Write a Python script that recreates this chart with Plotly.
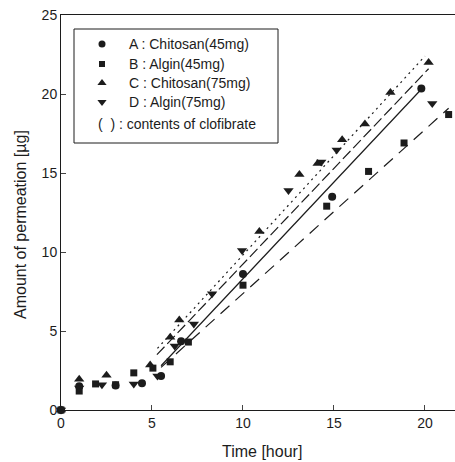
import plotly.graph_objects as go

# ---- data ----
A_t = [0, 1, 3.0, 4.45, 5.5, 6.6, 10.0, 14.9, 19.8]
A_y = [0, 1.5, 1.55, 1.7, 2.15, 4.35, 8.6, 13.5, 20.35]

B_t = [0, 1, 1.9, 3.0, 4.0, 5.05, 6.0, 7.0, 10.0, 14.6, 16.9, 18.85, 21.3]
B_y = [0, 1.2, 1.65, 1.6, 2.35, 2.65, 3.05, 4.3, 7.9, 12.9, 15.1, 16.9, 18.7]

C_t = [0, 1, 2.5, 4.9, 6.0, 6.5, 10.9, 13.1, 14.1, 15.45, 16.7, 18.1, 20.2]
C_y = [0, 1.95, 2.2, 2.85, 4.6, 5.7, 11.3, 14.9, 15.6, 17.1, 18.1, 20.1, 22.0]

D_t = [0, 1, 2.25, 4.0, 5.3, 6.25, 7.3, 8.3, 9.95, 12.5, 14.3, 15.15, 20.4]
D_y = [0, 1.4, 1.6, 1.65, 2.15, 4.05, 5.45, 7.35, 10.1, 13.9, 15.7, 16.45, 19.4]

# fitted trend lines (end points)
A_fit_t = [5.5, 19.8]
A_fit_y = [2.8, 20.3]
B_fit_t = [5.5, 21.3]
B_fit_y = [2.7, 19.1]
C_fit_t = [5.3, 20.0]
C_fit_y = [3.9, 22.4]
D_fit_t = [5.27, 20.2]
D_fit_y = [3.5, 21.6]

legend_labels = ["A : Chitosan(45mg)", "B : Algin(45mg)", "C : Chitosan(75mg)", "D : Algin(75mg)"]
legend_note = "(  ) : contents of clofibrate"
x_ticks = [0, 5, 10, 15, 20]
y_ticks = [0, 5, 10, 15, 20, 25]
x_title = "Time [hour]"
y_title = "Amount of permeation [µg]"

INK = "#1c1c1c"
FONT = "Liberation Sans, Arial, sans-serif"

fig = go.Figure()

# trend lines
fig.add_trace(go.Scatter(x=C_fit_t, y=C_fit_y, mode="lines",
                         line=dict(color=INK, width=1.2, dash="2px,4px"), showlegend=False))
fig.add_trace(go.Scatter(x=D_fit_t, y=D_fit_y, mode="lines",
                         line=dict(color=INK, width=1.2, dash="11px,4px"), showlegend=False))
fig.add_trace(go.Scatter(x=A_fit_t, y=A_fit_y, mode="lines",
                         line=dict(color=INK, width=1.2), showlegend=False))
fig.add_trace(go.Scatter(x=B_fit_t, y=B_fit_y, mode="lines",
                         line=dict(color=INK, width=1.2, dash="12px,8px"), showlegend=False))

series = [
    (A_t, A_y, "circle", 8),
    (B_t, B_y, "square", 7),
    (C_t, C_y, "triangle-up", 9),
    (D_t, D_y, "triangle-down", 9),
]
for t, y, sym, sz in series:
    fig.add_trace(go.Scatter(x=t, y=y, mode="markers", cliponaxis=False,
                             marker=dict(symbol=sym, size=sz, color=INK), showlegend=False))

# hand-drawn legend box (paper coords; plot area spans px 61..455 x 15..410)
def px2paper_x(px):
    return (px - 61) / 394.0

def px2paper_y(py):
    return (410 - py) / 395.0

fig.add_shape(type="rect", xref="paper", yref="paper",
              x0=px2paper_x(74), x1=px2paper_x(278), y0=px2paper_y(143), y1=px2paper_y(29),
              line=dict(color=INK, width=1), fillcolor="rgba(0,0,0,0)", layer="above")

rows_py = [44, 64, 83, 102]
for (t, y, sym, sz), lab, py in zip(series, legend_labels, rows_py):
    fig.add_trace(go.Scatter(x=[px2paper_x(102)], y=[px2paper_y(py)], mode="markers",
                             xaxis="x2", yaxis="y2", cliponaxis=False,
                             marker=dict(symbol=sym, size=sz - 1, color=INK), showlegend=False))
    fig.add_annotation(xref="paper", yref="paper", x=px2paper_x(127), y=px2paper_y(py),
                       text=lab, showarrow=False, xanchor="left", yanchor="middle",
                       font=dict(family=FONT, size=14, color=INK))
fig.add_annotation(xref="paper", yref="paper", x=px2paper_x(96), y=px2paper_y(124),
                   text=legend_note, showarrow=False, xanchor="left", yanchor="middle",
                   font=dict(family=FONT, size=14, color=INK))

# axis titles
fig.add_annotation(xref="paper", yref="paper", x=px2paper_x(262), y=px2paper_y(452),
                   text=x_title, showarrow=False, xanchor="center", yanchor="middle",
                   font=dict(family=FONT, size=16, color=INK))
fig.add_annotation(xref="paper", yref="paper", x=px2paper_x(21), y=px2paper_y(225),
                   text=y_title, showarrow=False, xanchor="center", yanchor="middle",
                   textangle=-90, font=dict(family=FONT, size=16, color=INK))

fig.update_layout(
    width=455, height=462,
    margin=dict(l=61, r=0, t=15, b=52, autoexpand=False),
    paper_bgcolor="white", plot_bgcolor="white",
    font=dict(family=FONT, size=14, color=INK),
    xaxis=dict(range=[0, 21.65], tickvals=x_ticks, ticks="inside", ticklen=5,
               showgrid=False, zeroline=False, showline=True, linecolor=INK, linewidth=1,
               mirror=True, automargin=False, tickfont=dict(size=14)),
    yaxis=dict(range=[0, 25], tickvals=y_ticks, ticks="inside", ticklen=5,
               showgrid=False, zeroline=False, showline=True, linecolor=INK, linewidth=1,
               automargin=False, tickfont=dict(size=14)),
    xaxis2=dict(overlaying="x", range=[0, 1], visible=False),
    yaxis2=dict(overlaying="y", range=[0, 1], visible=False),
)

fig.write_html("out.html", config={"displayModeBar": False},
               post_script="document.body.style.margin='0';document.body.style.overflow='hidden';")
